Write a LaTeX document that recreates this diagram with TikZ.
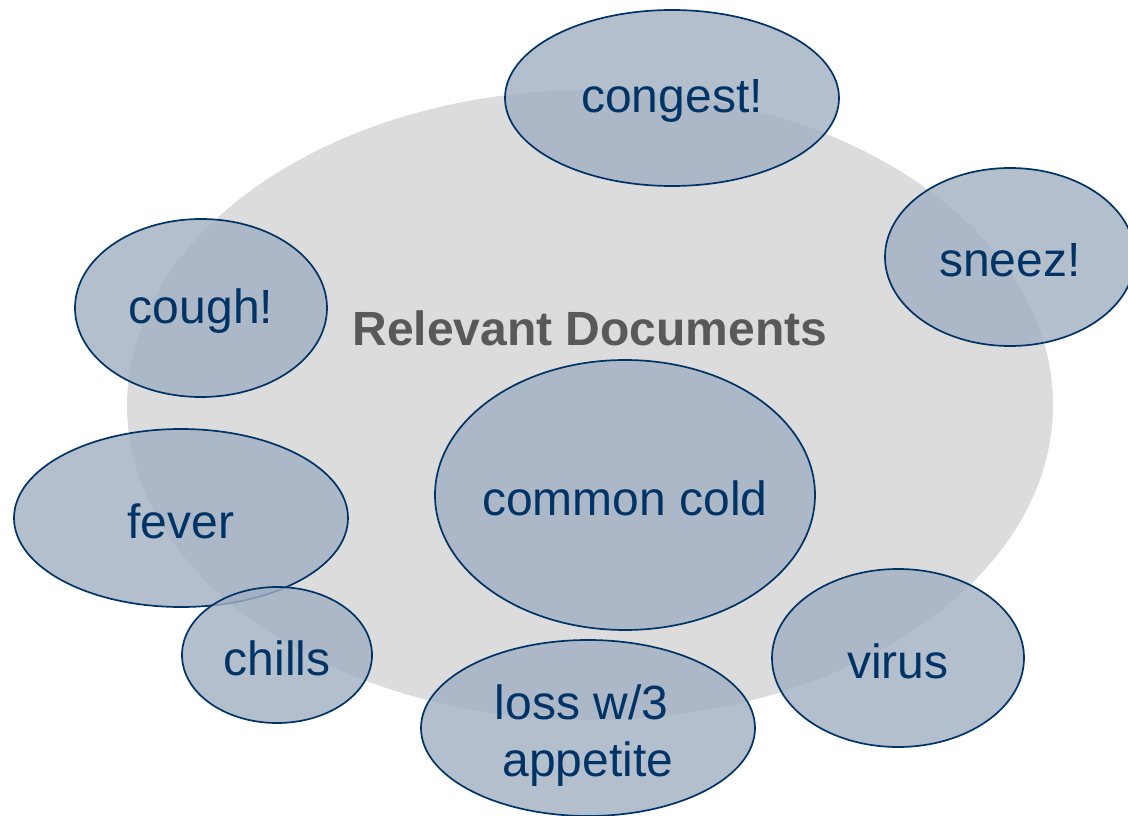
\documentclass[tikz,border=0pt]{standalone}
\usepackage{fontspec}
\setmainfont{Liberation Sans}
\usetikzlibrary{shapes.geometric}
\definecolor{txtblue}{HTML}{003366}
\definecolor{bubfill}{HTML}{A1AFC2}
\definecolor{bggray}{HTML}{DCDCDC}
\definecolor{titlegray}{HTML}{595959}
\tikzset{
  bubble/.style={ellipse, draw=txtblue, line width=1.7pt, fill=bubfill, fill opacity=0.8,
    inner sep=0pt},
  bubtext/.style={text=txtblue, inner sep=0pt, align=center,
    font=\fontsize{48}{57}\selectfont, yshift=-3pt},
  docset/.style={ellipse, fill=bggray, draw=none, inner sep=0pt}
}
\begin{document}
\begin{tikzpicture}[x=1pt,y=-1pt]
\useasboundingbox (0,0) rectangle (1128,816);
\node[docset, minimum width=926pt, minimum height=630pt] (docs) at (590,405) {};
\node[font=\bfseries\fontsize{48}{57}\selectfont, text=titlegray] (title) at (590,328) {Relevant Documents};
\node[bubble, minimum width=334pt, minimum height=176pt] (congest) at (672,98) {};
\node[bubtext] (congestT) at (congest) {congest!};
\node[bubble, minimum width=250pt, minimum height=178pt] (sneez) at (1010,257) {};
\node[bubtext] (sneezT) at (sneez) {sneez!};
\node[bubble, minimum width=252pt, minimum height=178pt] (cough) at (201,308) {};
\node[bubtext] (coughT) at (cough) {cough!};
\node[bubble, minimum width=380pt, minimum height=270pt] (cold) at (625,495) {};
\node[bubtext] (coldT) at (cold) {common cold};
\node[bubble, minimum width=334pt, minimum height=178pt] (fever) at (181,518) {};
\node[bubtext] (feverT) at (fever) {fever};
\node[bubble, minimum width=190pt, minimum height=136pt] (chills) at (277,655) {};
\node[bubtext] (chillsT) at (chills) {chills};
\node[bubble, minimum width=334pt, minimum height=176pt] (loss) at (588,728) {};
\node[bubtext, yshift=-5pt] (lossT) at (loss) {loss w/3\hspace*{13pt}\\appetite};
\node[bubble, minimum width=252pt, minimum height=178pt] (virus) at (898,658) {};
\node[bubtext] (virusT) at (virus) {virus};
\end{tikzpicture}
\end{document}
